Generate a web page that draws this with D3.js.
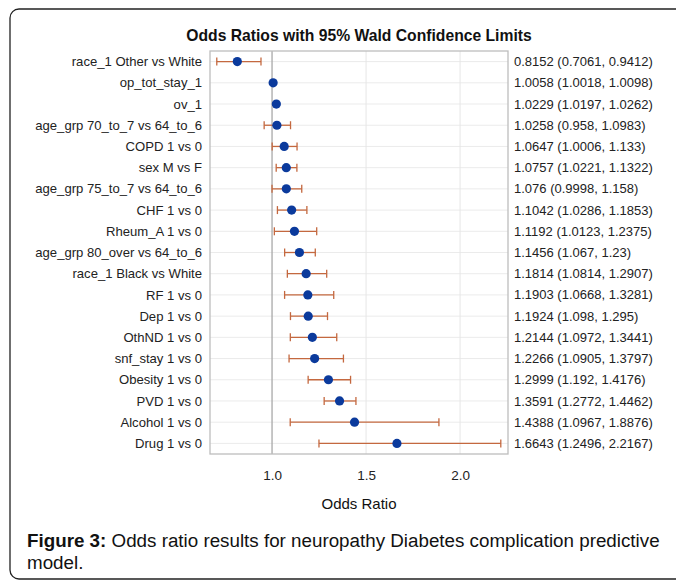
<!DOCTYPE html>
<html>
<head>
<meta charset="utf-8">
<script src="https://cdn.jsdelivr.net/npm/d3@7"></script>
<style>
  body { margin: 0; background: #fff; }
  text { font-family: "Liberation Sans", Arial, sans-serif; }
</style>
</head>
<body>
<div id="chart"></div>
<script>
var labels = ["race_1 Other vs White", "op_tot_stay_1", "ov_1", "age_grp 70_to_7 vs 64_to_6",
    "COPD 1 vs 0", "sex M vs F", "age_grp 75_to_7 vs 64_to_6", "CHF 1 vs 0", "Rheum_A 1 vs 0",
    "age_grp 80_over vs 64_to_6", "race_1 Black vs White", "RF 1 vs 0", "Dep 1 vs 0",
    "OthND 1 vs 0", "snf_stay 1 vs 0", "Obesity 1 vs 0", "PVD 1 vs 0", "Alcohol 1 vs 0", "Drug 1 vs 0"];
var est   = [0.8152, 1.0058, 1.0229, 1.0258, 1.0647, 1.0757, 1.076, 1.1042, 1.1192, 1.1456,
    1.1814, 1.1903, 1.1924, 1.2144, 1.2266, 1.2999, 1.3591, 1.4388, 1.6643];
var lower = ["0.7061", "1.0018", "1.0197", "0.958", "1.0006", "1.0221", "0.9998", "1.0286", "1.0123", "1.067",
    "1.0814", "1.0668", "1.098", "1.0972", "1.0905", "1.192", "1.2772", "1.0967", "1.2496"];
var upper = ["0.9412", "1.0098", "1.0262", "1.0983", "1.133", "1.1322", "1.158", "1.1853", "1.2375", "1.23",
    "1.2907", "1.3281", "1.295", "1.3441", "1.3797", "1.4176", "1.4462", "1.8876", "2.2167"];
var ticks = [1.0, 1.5, 2.0];

var width = 676, height = 581;
var pLeft = 210, pRight = 508, pTop = 51, pBottom = 454;

var svg = d3.select("#chart").append("svg")
    .attr("width", width)
    .attr("height", height);

// frame round the figure
svg.append("rect")
    .attr("x", 10).attr("y", 9)
    .attr("width", 700).attr("height", 570)
    .attr("rx", 9)
    .attr("fill", "none")
    .attr("stroke", "#222")
    .attr("stroke-width", 1.3);

var x = d3.scaleLinear().domain([0.67, 2.255]).range([pLeft, pRight]);
var y = d3.scaleBand().domain(labels).range([pTop, pBottom]);

svg.append("text")
    .attr("x", 359).attr("y", 41)
    .attr("text-anchor", "middle")
    .attr("font-size", 15.7).attr("font-weight", "bold")
    .attr("fill", "#111")
    .text("Odds Ratios with 95% Wald Confidence Limits");

// grid
var g = svg.append("g");
g.selectAll("line.h")
    .data(labels)
    .enter()
    .append("line")
    .attr("x1", pLeft).attr("x2", pRight)
    .attr("y1", function(d) { return y(d) + y.bandwidth() / 2; })
    .attr("y2", function(d) { return y(d) + y.bandwidth() / 2; })
    .attr("stroke", "#ebebeb");
g.selectAll("line.v")
    .data(ticks)
    .enter()
    .append("line")
    .attr("x1", function(d) { return x(d); })
    .attr("x2", function(d) { return x(d); })
    .attr("y1", pTop).attr("y2", pBottom)
    .attr("stroke", function(d) { return d == 1 ? "#a8a8a8" : "#e6e6e6"; })
    .attr("stroke-width", function(d) { return d == 1 ? 1.3 : 1; });

svg.append("rect")
    .attr("x", pLeft).attr("y", pTop)
    .attr("width", pRight - pLeft).attr("height", pBottom - pTop)
    .attr("fill", "none")
    .attr("stroke", "#bdbdbd")
    .attr("stroke-width", 1.3);

// error bars
var bars = svg.append("g");
labels.forEach(function(d, i) {
    var cy = y(d) + y.bandwidth() / 2;
    var lo = +lower[i], hi = +upper[i];
    if (hi - lo < 0.02) return;
    bars.append("line")
        .attr("x1", x(lo)).attr("x2", x(hi))
        .attr("y1", cy).attr("y2", cy)
        .attr("stroke", "#c4683f").attr("stroke-width", 1.3);
    [lo, hi].forEach(function(v) {
        bars.append("line")
            .attr("x1", x(v)).attr("x2", x(v))
            .attr("y1", cy - 4).attr("y2", cy + 4)
            .attr("stroke", "#c4683f").attr("stroke-width", 1.3);
    });
});

svg.append("g").selectAll("circle")
    .data(est)
    .enter()
    .append("circle")
    .attr("cx", function(d) { return x(d); })
    .attr("cy", function(d, i) { return y(labels[i]) + y.bandwidth() / 2; })
    .attr("r", 4.6)
    .attr("fill", "#0b3a9c");

// row labels left and values right
svg.append("g").selectAll("text")
    .data(labels)
    .enter()
    .append("text")
    .attr("x", pLeft - 8)
    .attr("y", function(d) { return y(d) + y.bandwidth() / 2; })
    .attr("dy", "0.35em")
    .attr("text-anchor", "end")
    .attr("font-size", 13.1).attr("fill", "#222")
    .text(function(d) { return d; });

svg.append("g").selectAll("text")
    .data(est)
    .enter()
    .append("text")
    .attr("x", pRight + 6)
    .attr("y", function(d, i) { return y(labels[i]) + y.bandwidth() / 2; })
    .attr("dy", "0.35em")
    .attr("font-size", 13).attr("fill", "#222")
    .text(function(d, i) { return d + " (" + lower[i] + ", " + upper[i] + ")"; });

// x axis
var axis = svg.append("g")
    .attr("transform", "translate(0," + pBottom + ")")
    .call(d3.axisBottom(x).tickValues(ticks).tickFormat(d3.format(".1f")).tickSize(0).tickPadding(16));
axis.select(".domain").remove();
axis.selectAll("text").attr("font-size", 13.5).attr("fill", "#222").attr("font-family", "Liberation Sans, Arial, sans-serif");

svg.append("text")
    .attr("x", (pLeft + pRight) / 2).attr("y", 509)
    .attr("text-anchor", "middle")
    .attr("font-size", 15).attr("fill", "#111")
    .text("Odds Ratio");

// caption
var cap = svg.append("text")
    .attr("x", 27).attr("y", 547)
    .attr("font-size", 18.8).attr("fill", "#111");
cap.append("tspan").attr("font-weight", "bold").text("Figure 3:");
cap.append("tspan").text(" Odds ratio results for neuropathy Diabetes complication predictive");
svg.append("text")
    .attr("x", 27).attr("y", 569)
    .attr("font-size", 18.8).attr("fill", "#111")
    .text("model.");
</script>
</body>
</html>
